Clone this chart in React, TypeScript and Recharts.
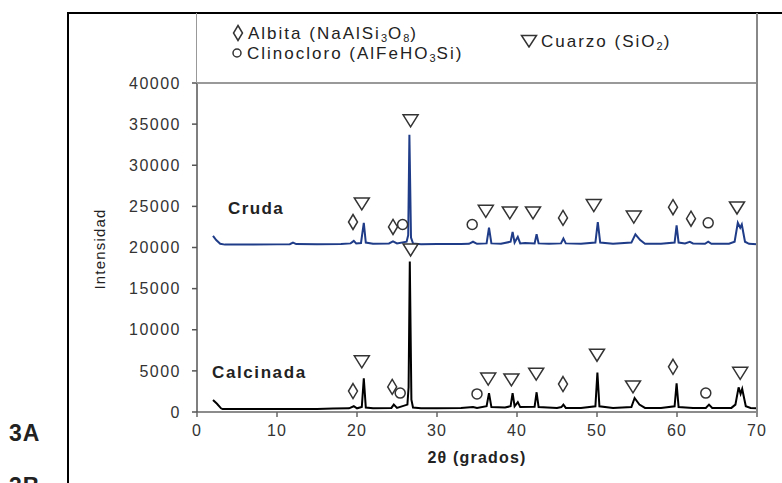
import React from 'react';
import { ComposedChart, Line, Scatter, XAxis, YAxis } from 'recharts';

// 2θ positions and intensities
const crudaX = [2.0, 2.4, 2.9, 3.5, 6, 10, 11.6, 12.0, 12.4, 15, 18, 19.2, 19.6, 19.9, 20.5, 20.85, 21.1, 22, 24.0, 24.5, 25, 26.2, 26.4, 26.55, 26.75, 27.0, 28, 30, 33, 34.0, 34.5, 35, 36.2, 36.5, 36.8, 38, 39.2, 39.45, 39.7, 40.1, 40.4, 41, 42.2, 42.45, 42.7, 44, 45.5, 45.8, 46.1, 48, 49.8, 50.1, 50.4, 52, 54.3, 54.8, 55.4, 56, 58, 59.7, 59.95, 60.2, 61, 61.6, 62, 63.5, 63.9, 64.3, 66.5, 67.2, 67.6, 67.9, 68.1, 68.5, 69, 70];
const crudaY = [21400, 20900, 20450, 20350, 20350, 20380, 20400, 20600, 20420, 20400, 20420, 20500, 20800, 20500, 20550, 23000, 20600, 20450, 20500, 20750, 20500, 20700, 21500, 33700, 21200, 20500, 20400, 20420, 20420, 20450, 20700, 20450, 20500, 22400, 20500, 20450, 20700, 21900, 20600, 21300, 20500, 20550, 20500, 21600, 20500, 20450, 20500, 21100, 20500, 20450, 20600, 23100, 20600, 20450, 20600, 21600, 20900, 20450, 20450, 20600, 22700, 20600, 20500, 20700, 20500, 20450, 20700, 20450, 20450, 20700, 23000, 22400, 22800, 20700, 20450, 20400];

const calcX = [2.0, 2.5, 3.0, 3.2, 8, 15, 17, 19, 19.6, 20.0, 20.6, 20.85, 21.1, 22, 24.3, 24.6, 25, 26.3, 26.45, 26.6, 26.8, 27.0, 28, 30, 33, 34.5, 35, 36.2, 36.5, 36.8, 38.5, 39.2, 39.45, 39.7, 40.1, 40.4, 42.2, 42.45, 42.7, 45, 45.55, 45.8, 46.1, 48, 49.8, 50.05, 50.3, 52, 54.3, 54.7, 55.3, 56, 58, 59.7, 59.95, 60.2, 62, 63.6, 64, 64.4, 66.8, 67.3, 67.7, 67.95, 68.15, 68.6, 69.2, 70];
const calcY = [1450, 1000, 450, 350, 350, 380, 420, 450, 700, 450, 600, 4100, 550, 450, 500, 900, 500, 900, 3000, 18300, 1500, 550, 450, 450, 500, 600, 500, 700, 2300, 600, 550, 700, 2300, 700, 1200, 600, 650, 2400, 600, 500, 600, 900, 500, 500, 700, 4800, 700, 500, 600, 1700, 900, 500, 500, 700, 3500, 600, 500, 500, 900, 500, 500, 900, 3000, 2200, 2800, 700, 500, 450];

// phase markers: [2θ, intensity]
const albita = [[19.5, 23100], [24.5, 22500], [45.75, 23600], [59.5, 24900], [61.75, 23500], [19.5, 2550], [24.4, 3050], [45.75, 3400], [59.5, 5500]];
const clinocloro = [[25.7, 22800], [34.4, 22800], [63.9, 23000], [25.4, 2300], [35, 2200], [63.6, 2300]];
const cuarzo = [[20.6, 25300], [26.7, 35400], [36.1, 24400], [39.1, 24200], [42.0, 24200], [49.6, 25100], [54.6, 23700], [67.5, 24800], [20.6, 6100], [26.7, 19700], [36.4, 4000], [39.3, 3900], [42.4, 4600], [50.0, 6900], [54.5, 3050], [67.9, 4700]];

const xTicks = [0, 10, 20, 30, 40, 50, 60, 70];
const yTicks = [0, 5000, 10000, 15000, 20000, 25000, 30000, 35000, 40000];

const toRows = (xs: number[], ys: number[]) => xs.map((x, i) => ({ x, y: ys[i] }));
const toPts = (arr: number[][]) => arr.map(([x, y]) => ({ x, y }));

const FONT = '"Liberation Sans", Arial, sans-serif';
const MK = '#333';

const Diamond = (p: any) => (
  <path d={`M${p.cx},${p.cy - 7.5} L${p.cx + 4.5},${p.cy} L${p.cx},${p.cy + 7.5} L${p.cx - 4.5},${p.cy} Z`} fill="#fff" stroke={MK} strokeWidth={1.5} />
);
const Circ = (p: any) => <circle cx={p.cx} cy={p.cy} r={5} fill="#fff" stroke={MK} strokeWidth={1.5} />;
const Tri = (p: any) => (
  <path d={`M${p.cx - 7.5},${p.cy - 6} L${p.cx + 7.5},${p.cy - 6} L${p.cx},${p.cy + 6} Z`} fill="#fff" stroke={MK} strokeWidth={1.5} />
);

const abs = (s: React.CSSProperties): React.CSSProperties => ({ position: 'absolute', ...s });
const legendText: React.CSSProperties = { fontFamily: FONT, fontSize: 17, color: '#222', letterSpacing: 2, whiteSpace: 'nowrap', lineHeight: '20px' };
const subStyle: React.CSSProperties = { fontSize: 11, verticalAlign: -3, letterSpacing: 1 };

export default function App() {
  return (
    <div style={{ position: 'absolute', left: 0, top: 0, width: 782, height: 483, background: '#fff', overflow: 'hidden' }}>
      <ComposedChart width={782} height={483} margin={{ top: 83, right: 25, bottom: 41, left: 137 }}>
        <XAxis
          type="number"
          dataKey="x"
          domain={[0, 70]}
          ticks={xTicks}
          height={30}
          tickSize={5}
          tickMargin={8}
          stroke="#666"
          strokeWidth={1.5}
          tick={{ fontSize: 16, fill: '#333', fontFamily: FONT, letterSpacing: 1 }}
        />
        <YAxis
          type="number"
          dataKey="y"
          domain={[0, 40000]}
          ticks={yTicks}
          width={60}
          tickSize={5}
          tickMargin={11}
          stroke="#555"
          strokeWidth={1.5}
          tick={{ fontSize: 16, fill: '#333', fontFamily: FONT, letterSpacing: 1.5 }}
        />
        <Line data={toRows(crudaX, crudaY)} dataKey="y" stroke="#1F3C88" strokeWidth={2} dot={false} isAnimationActive={false} type="linear" />
        <Line data={toRows(calcX, calcY)} dataKey="y" stroke="#000" strokeWidth={2} dot={false} isAnimationActive={false} type="linear" />
        <Scatter data={toPts(albita)} shape={Diamond} isAnimationActive={false} />
        <Scatter data={toPts(clinocloro)} shape={Circ} isAnimationActive={false} />
        <Scatter data={toPts(cuarzo)} shape={Tri} isAnimationActive={false} />
      </ComposedChart>

      {/* frame lines */}
      <div style={abs({ left: 67, top: 12, width: 715, height: 1.5, background: '#000' })} />
      <div style={abs({ left: 67, top: 12, width: 1.5, height: 471, background: '#000' })} />
      <div style={abs({ left: 196, top: 13, width: 1, height: 70, background: '#999' })} />
      <div style={abs({ left: 197, top: 82, width: 560, height: 1.5, background: '#999' })} />
      <div style={abs({ left: 756, top: 13, width: 1.5, height: 401, background: '#888' })} />

      {/* legend */}
      <div style={abs({ left: 232, top: 24, ...legendText })}>
        <svg width={12} height={18} style={{ verticalAlign: -3, marginRight: 4 }}>
          <path d="M6,1.5 L10.5,9 L6,16.5 L1.5,9 Z" fill="none" stroke={MK} strokeWidth={1.5} />
        </svg>
        Albita (NaAlSi<span style={subStyle}>3</span>O<span style={subStyle}>8</span>)
      </div>
      <div style={abs({ left: 231, top: 44, ...legendText })}>
        <svg width={12} height={14} style={{ verticalAlign: -1, marginRight: 4 }}>
          <circle cx={6} cy={7} r={4} fill="none" stroke={MK} strokeWidth={1.5} />
        </svg>
        Clinocloro (AlFeHO<span style={subStyle}>3</span>Si)
      </div>
      <div style={abs({ left: 520, top: 32, ...legendText })}>
        <svg width={18} height={14} style={{ verticalAlign: -1, marginRight: 3 }}>
          <path d="M1.5,1.5 L16.5,1.5 L9,13 Z" fill="none" stroke={MK} strokeWidth={1.5} />
        </svg>
        Cuarzo (SiO<span style={subStyle}>2</span>)
      </div>

      {/* series labels */}
      <div style={abs({ left: 228, top: 199, fontFamily: FONT, fontWeight: 'bold', fontSize: 17, letterSpacing: 1.4, color: '#222' })}>Cruda</div>
      <div style={abs({ left: 212, top: 363, fontFamily: FONT, fontWeight: 'bold', fontSize: 17, letterSpacing: 1.6, color: '#222' })}>Calcinada</div>

      {/* axis titles */}
      <div style={abs({ left: 0, top: 449, width: 954, textAlign: 'center', fontFamily: FONT, fontWeight: 'bold', fontSize: 16, letterSpacing: 1.2, color: '#222' })}>2θ (grados)</div>
      <div style={abs({ left: 99, top: 249, transform: 'translate(-50%, -50%) rotate(-90deg)', fontFamily: FONT, fontSize: 15, letterSpacing: 1.2, color: '#222', whiteSpace: 'nowrap' })}>Intensidad</div>

      {/* panel tags */}
      <div style={abs({ left: 9, top: 420, fontFamily: FONT, fontWeight: 'bold', fontSize: 23, letterSpacing: 1, color: '#222' })}>3A</div>
      <div style={abs({ left: 9, top: 473, fontFamily: FONT, fontWeight: 'bold', fontSize: 23, letterSpacing: 1, color: '#222' })}>3B</div>
    </div>
  );
}
